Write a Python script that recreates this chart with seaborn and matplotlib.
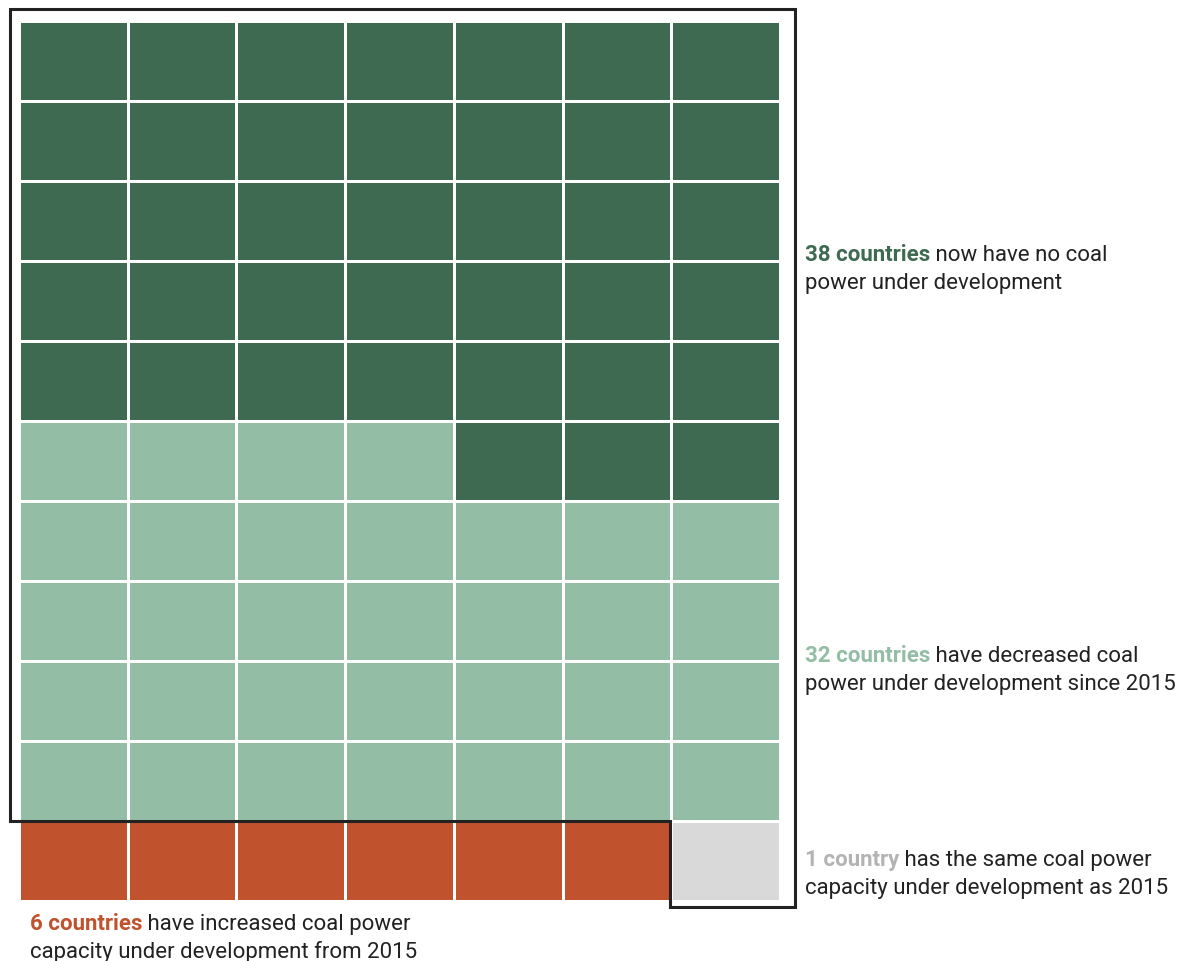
import numpy as np
import matplotlib
matplotlib.use("Agg")
import matplotlib.pyplot as plt
from matplotlib.colors import ListedColormap
import seaborn as sns

# categories in fill order (filled from the bottom-left, row by row upwards)
categories = ["increased", "same", "decreased", "none"]
counts = [6, 1, 32, 38]
colors = ["#c0532d", "#d9d9d9", "#94bda6", "#3e6a52"]
label_colors = ["#c0532d", "#b3b3b3", "#94bda6", "#3e6a52"]
bold_labels = ["6 countries", "1 country", "32 countries", "38 countries"]
rest_line1 = [" have increased coal power", " has the same coal power",
              " have decreased coal", " now have no coal"]
line2 = ["capacity under development from 2015",
         "capacity under development as 2015",
         "power under development since 2015",
         "power under development"]
n_cols = 7

sns.set_theme(style="white")
plt.rcParams["font.family"] = ["Roboto", "DejaVu Sans"]

W, H = 1179, 962
fig = plt.figure(figsize=(W / 100, H / 100), dpi=100)

# waffle grid
codes = np.repeat(np.arange(len(categories)), counts)
n_rows = len(codes) // n_cols
grid = codes.reshape(n_rows, n_cols)[::-1]

ax = fig.add_axes([19 / W, 1 - 902 / H, (780 - 19) / W, (902 - 22) / H])
sns.heatmap(grid, ax=ax, cmap=ListedColormap(colors), vmin=-0.5,
            vmax=len(categories) - 0.5, cbar=False, linewidths=0.9,
            linecolor="white", xticklabels=False, yticklabels=False)

# outline around countries that cut back (decreased + none) and the unchanged one
cut = counts[0]
left, right, top, bottom = -0.085, n_cols + 0.138, -0.15, n_rows + 0.075
ox = [left, right, right, cut - 0.01, cut - 0.01, left, left]
oy = [top, top, bottom, bottom, n_rows - 1, n_rows - 1, top]
ax.plot(ox, oy, color="#222222", lw=2.2, clip_on=False, solid_joinstyle="miter")

# annotation layer in pixel coordinates
tx = fig.add_axes([0, 0, 1, 1])
tx.set_xlim(0, W)
tx.set_ylim(H, 0)
tx.axis("off")
tx.patch.set_alpha(0)

# (x, baseline of line 1) for each category label
label_pos = [(30, 930), (805, 866), (805, 662), (805, 261)]
fs = 16
for i in range(len(categories)):
    x, y = label_pos[i]
    t1 = tx.text(x, y, bold_labels[i], fontsize=fs, fontweight="bold",
                 color=label_colors[i], va="baseline", ha="left")
    tx.annotate(rest_line1[i], xy=(1, 0), xycoords=t1, va="bottom", ha="left",
                fontsize=fs, color="#222222")
    tx.text(x, y + 28, line2[i], fontsize=fs, color="#222222",
            va="baseline", ha="left")

fig.savefig("out.png", dpi=100, facecolor="white")
